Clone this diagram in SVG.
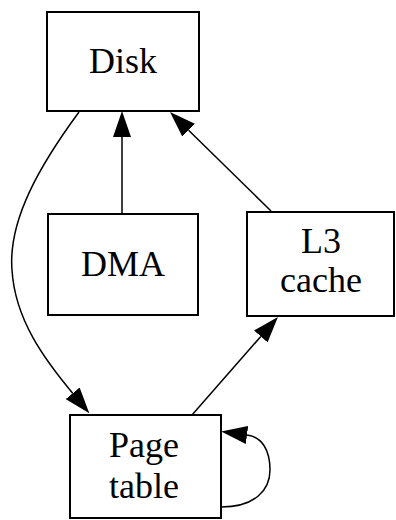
<svg xmlns="http://www.w3.org/2000/svg" width="396" height="520" viewBox="0 0 396 520">
<style>
.box{fill:#fff;stroke:#000;stroke-width:2}
.lbl{font-family:"Liberation Serif","Times New Roman",serif;font-size:36px;fill:#000;text-anchor:middle}
.edge{fill:none;stroke:#000;stroke-width:1.5}
</style>
<defs>
<marker id="ah" viewBox="0 0 26 18" refX="0" refY="9" markerWidth="26" markerHeight="18" markerUnits="userSpaceOnUse" orient="auto">
<path d="M0,0 L26,9 L0,18 z" fill="#000"/>
</marker>
</defs>
<rect width="396" height="520" fill="#fff"/>
<g id="edges">
<path class="edge" d="M122,214 L122,137" marker-end="url(#ah)"/>
<path class="edge" d="M271,211 L188.6,130.2" marker-end="url(#ah)"/>
<path class="edge" d="M192,415 L260.8,336.5" marker-end="url(#ah)"/>
<path class="edge" d="M79,112 C40,165 8,220 12,270 C15,320 45,360 72.7,393.3" marker-end="url(#ah)"/>
<path class="edge" d="M221,507 C255,507 270,490 270,470 C270,450 262,437 247,435" marker-end="url(#ah)"/>
</g>
<g id="disk">
<rect class="box" x="47" y="12" width="152" height="99"/>
<text class="lbl" x="123" y="73">Disk</text>
</g>
<g id="dma">
<rect class="box" x="48" y="214" width="150" height="101"/>
<text class="lbl" x="123" y="276">DMA</text>
</g>
<g id="l3cache">
<rect class="box" x="247" y="212" width="147" height="104"/>
<text class="lbl" x="321" y="253">L3</text>
<text class="lbl" x="321" y="292">cache</text>
</g>
<g id="pagetable">
<rect class="box" x="70" y="415" width="151" height="103"/>
<text class="lbl" x="144" y="457">Page</text>
<text class="lbl" x="144" y="498">table</text>
</g>
</svg>
